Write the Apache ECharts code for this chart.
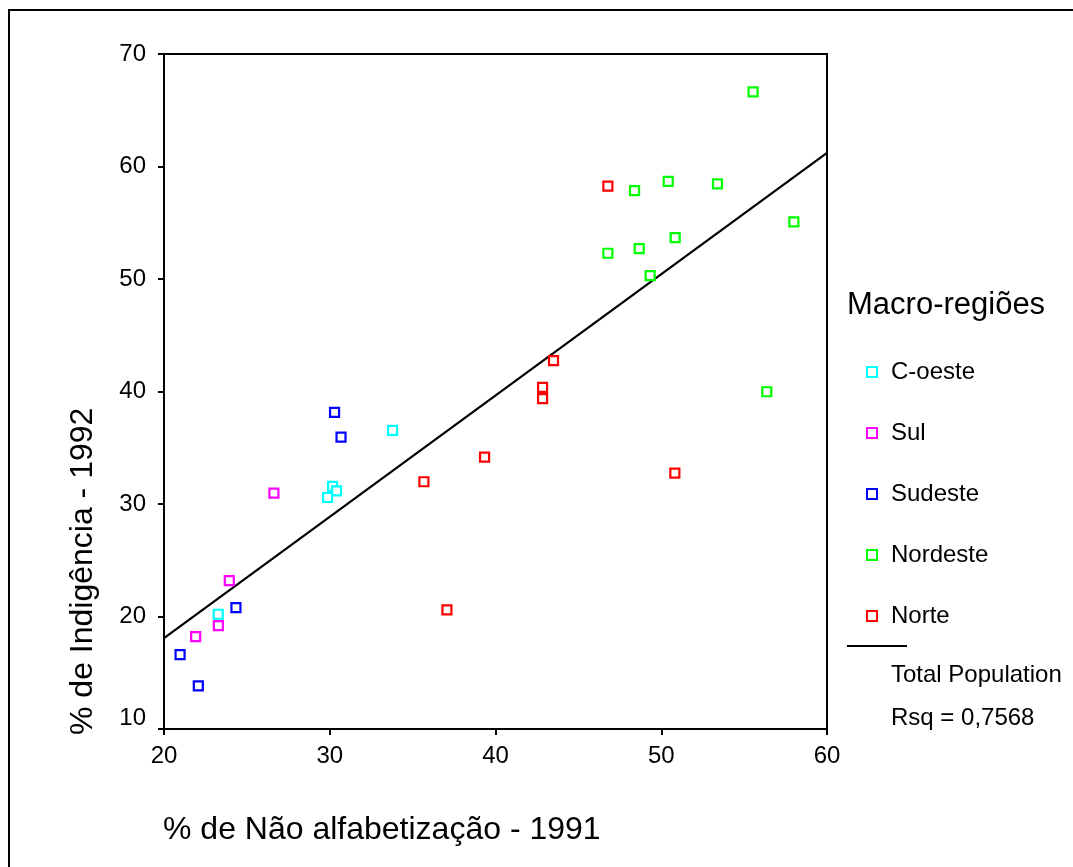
<!DOCTYPE html>
<html>
<head>
<meta charset="utf-8">
<script src="https://cdn.jsdelivr.net/npm/echarts@6/dist/echarts.min.js"></script>
<style>
html,body{margin:0;padding:0;background:#fff;}
#chart{width:1073px;height:867px;}
</style>
</head>
<body>
<div id="chart"></div>
<script>
// ---- data ----
var seriesNames = ['C-oeste', 'Sul', 'Sudeste', 'Nordeste', 'Norte'];
var cOeste = [[23.27,20.2],[33.79,36.54],[30.17,31.56],[30.41,31.17],[29.87,30.58]];
var sul = [[26.63,30.97],[23.94,23.19],[23.28,19.19],[21.91,18.21]];
var sudeste = [[30.29,38.14],[30.68,35.95],[24.34,20.79],[20.97,16.61],[22.07,13.83]];
var nordeste = [[55.54,66.64],[48.39,57.86],[50.42,58.67],[53.39,58.46],[58.0,55.08],[46.78,52.29],[48.67,52.70],[50.84,53.68],[49.33,50.30],[56.37,39.98]];
var norte = [[46.78,58.25],[43.50,42.74],[42.84,40.37],[42.84,39.36],[39.34,34.17],[35.68,31.98],[50.82,32.75],[37.07,20.59]];
var trendLine = [[20,18.07],[60,61.22]];
var xTicks = [20, 30, 40, 50, 60];
var yTicks = [10, 20, 30, 40, 50, 60, 70];
var xTitle = '% de Não alfabetização - 1991';
var yTitle = '% de Indigência - 1992';
var legendTitle = 'Macro-regiões';
var fitLabel = 'Total Population';
var rsqLabel = 'Rsq = 0,7568';

var colors = ['#00FFFF', '#FF00FF', '#0000FF', '#00FF00', '#FF0000'];
var groups = [cOeste, sul, sudeste, nordeste, norte];
var FONT = 'Liberation Sans, Arial, sans-serif';

var chart = echarts.init(document.getElementById('chart'), null, {renderer: 'canvas'});

var series = groups.map(function (g, i) {
  return {
    name: seriesNames[i],
    type: 'scatter',
    data: g,
    symbol: 'rect',
    symbolSize: 9,
    itemStyle: {color: '#fff', borderColor: colors[i], borderWidth: 2.2, opacity: 1},
    z: 3
  };
});
series.push({
  name: fitLabel,
  type: 'line',
  data: trendLine,
  symbol: 'none',
  lineStyle: {color: '#000', width: 2.2},
  z: 2,
  silent: true
});

var option = {
  animation: false,
  backgroundColor: '#fff',
  grid: {
    left: 164, top: 54, right: 1073 - 827, bottom: 867 - 729,
    show: true, borderColor: '#000', borderWidth: 2, backgroundColor: 'transparent'
  },
  xAxis: {
    type: 'value', min: xTicks[0], max: xTicks[xTicks.length - 1], interval: 10,
    axisLine: {show: true, lineStyle: {color: '#000', width: 2}},
    axisTick: {show: true, inside: false, length: 6, lineStyle: {color: '#000', width: 2}},
    axisLabel: {color: '#000', fontSize: 24, fontFamily: FONT, margin: 15},
    splitLine: {show: false}
  },
  yAxis: {
    type: 'value', min: yTicks[0], max: yTicks[yTicks.length - 1], interval: 10,
    axisLine: {show: true, lineStyle: {color: '#000', width: 2}},
    axisTick: {show: true, inside: false, length: 6, lineStyle: {color: '#000', width: 2}},
    axisLabel: {
      color: '#000', fontSize: 24, fontFamily: FONT, margin: 18,
      formatter: function (v) { return v === yTicks[0] ? '{low|' + v + '}' : String(v); },
      rich: {low: {fontSize: 24, fontFamily: FONT, color: '#000', padding: [0, 0, 22, 0]}}
    },
    splitLine: {show: false}
  },
  legend: {
    data: seriesNames,
    orient: 'vertical',
    left: 861, top: 355,
    itemWidth: 10, itemHeight: 10,
    itemGap: 37,
    selectedMode: false,
    itemStyle: {borderWidth: 2},
    textStyle: {color: '#000', fontSize: 24, fontFamily: FONT, padding: [0, 0, 0, 9]}
  },
  graphic: [
    {type: 'rect', shape: {x: 9, y: 10, width: 1200, height: 1000}, style: {fill: 'none', stroke: '#000', lineWidth: 2}, silent: true, z: 0},
    {type: 'text', x: 847, y: 305, style: {text: legendTitle, fontSize: 31, fontFamily: FONT, fill: '#000', textVerticalAlign: 'middle'}},
    {type: 'line', shape: {x1: 847, y1: 646, x2: 907, y2: 646}, style: {stroke: '#000', lineWidth: 2}},
    {type: 'text', x: 891, y: 675, style: {text: fitLabel, fontSize: 24, fontFamily: FONT, fill: '#000', textVerticalAlign: 'middle'}},
    {type: 'text', x: 891, y: 718, style: {text: rsqLabel, fontSize: 24, fontFamily: FONT, fill: '#000', textVerticalAlign: 'middle'}},
    {type: 'text', x: 163, y: 830, style: {text: xTitle, fontSize: 32, fontFamily: FONT, fill: '#000', textVerticalAlign: 'middle'}},
    {type: 'text', x: 83, y: 735, rotation: Math.PI / 2, style: {text: yTitle, fontSize: 32, fontFamily: FONT, fill: '#000', textAlign: 'left', textVerticalAlign: 'middle'}}
  ],
  series: series
};
chart.setOption(option);
</script>
</body>
</html>
